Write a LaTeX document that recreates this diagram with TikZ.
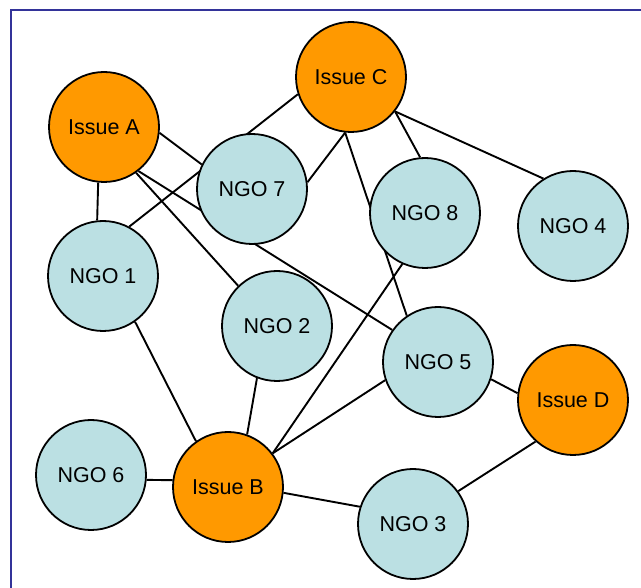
\documentclass[tikz,border=0pt]{standalone}
\usepackage{fontspec}
\setmainfont{Liberation Sans}
\usetikzlibrary{backgrounds}
\definecolor{issueorange}{RGB}{255,153,0}
\definecolor{ngoblue}{RGB}{187,224,227}
\definecolor{framecol}{RGB}{51,51,153}

\begin{document}
\begin{tikzpicture}[x=1pt,y=-1pt,
  issue/.style={circle, draw, line width=1.8pt, fill=issueorange, minimum size=110pt, inner sep=0pt, font=\fontsize{21.5}{24}\selectfont},
  ngo/.style={circle, draw, line width=1.8pt, fill=ngoblue, minimum size=110pt, inner sep=0pt, font=\fontsize{21.5}{24}\selectfont},
  link/.style={line width=1.9pt}]
\useasboundingbox (0,0) rectangle (641,588);

% Draw frame
\draw[framecol, line width=2pt] (11,600) -- (11,10) -- (660,10);

% Draw issues
\node[issue] (issA) at (104,127) {Issue A};
\node[issue] (issB) at (228,487) {Issue B};
\node[issue] (issC) at (351,77) {Issue C};
\node[issue] (issD) at (573,400) {Issue D};

% Draw NGOs
\node[ngo] (ngo1) at (103,276) {NGO 1};
\node[ngo] (ngo2) at (277,326) {NGO 2};
\node[ngo] (ngo3) at (413,524) {NGO 3};
\node[ngo] (ngo4) at (573,226) {NGO 4};
\node[ngo] (ngo5) at (438,362) {NGO 5};
\node[ngo] (ngo6) at (91,475) {NGO 6};
\node[ngo] (ngo7) at (252,189) {NGO 7};
\node[ngo] (ngo8) at (425,213) {NGO 8};

% Draw links behind the circles
\begin{scope}[on background layer]
\draw[link] (issA.264) -- (ngo1.96);
\draw[link] (issA.354) -- (ngo7.154);
\draw[link] (issA.305) -- (ngo2.134);
\draw[link] (issA.308) -- (ngo5.145);
\draw[link] (ngo1.62) -- (issC.198);
\draw[link] (ngo7.7) -- (issC.264);
\draw[link] (issC.264) -- (ngo5.124);
\draw[link] (issC.322) -- (ngo8.95);
\draw[link] (issC.322) -- (ngo4.122);
\draw[link] (ngo8.246) -- (issB.37);
\draw[link] (ngo5.199) -- (issB.37);
\draw[link] (ngo2.249) -- (issB.70);
\draw[link] (ngo1.305) -- (issB.125);
\draw[link] (ngo6.355) -- (issB.173);
\draw[link] (issB.354) -- (ngo3.162);
\draw[link] (ngo3.36) -- (issD.228);
\draw[link] (ngo5.342) -- (issD.173);
\end{scope}
\end{tikzpicture}
\end{document}
